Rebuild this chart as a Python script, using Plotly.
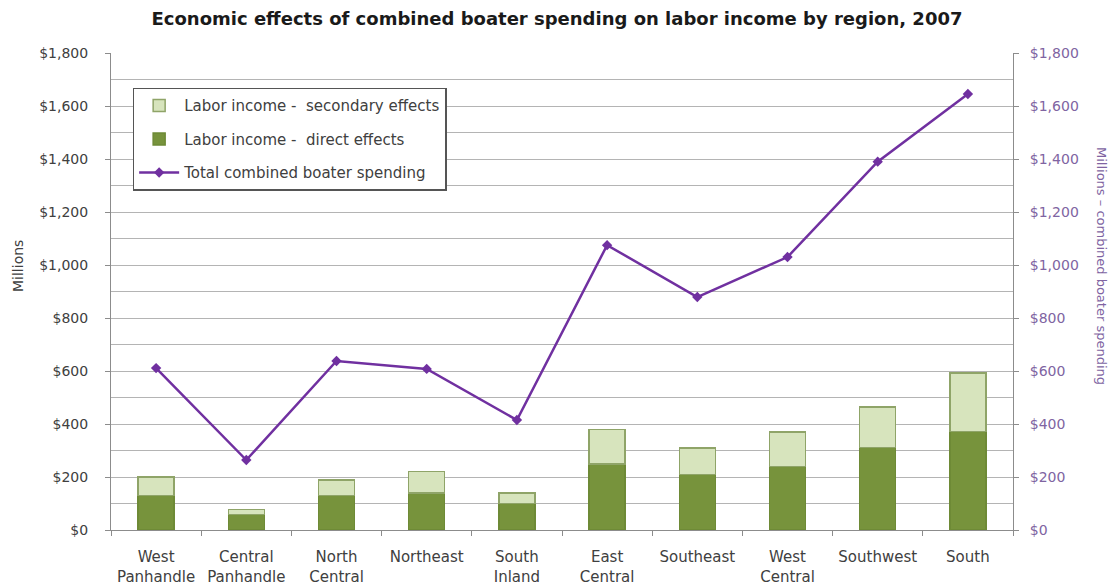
import plotly.graph_objects as go

# Regions (two-line tick labels) and values in millions of dollars
regions = ["West<br>Panhandle", "Central<br>Panhandle", "North<br>Central", "Northeast",
           "South<br>Inland", "East<br>Central", "Southeast", "West<br>Central",
           "Southwest", "South"]
direct_effects = [130, 58, 130, 140, 100, 250, 210, 240, 312, 372]
secondary_effects = [70, 20, 58, 80, 40, 130, 100, 130, 152, 220]
total_spending = [611, 264, 638, 608, 415, 1075, 879, 1030, 1390, 1645]

tick_vals = [0, 200, 400, 600, 800, 1000, 1200, 1400, 1600, 1800]
tick_text = ["$0", "$200", "$400", "$600", "$800", "$1,000", "$1,200", "$1,400", "$1,600", "$1,800"]

FONT = "DejaVu Sans"
GRID = "#B4B4B4"
AXIS = "#8C8C8C"
PURPLE_LINE = "#7030A0"
PURPLE_TEXT = "#8064A2"

fig = go.Figure()

fig.add_trace(go.Bar(
    x=regions, y=direct_effects, name="Labor income -  direct effects",
    marker=dict(color="#77933C", line=dict(color="#6E8A36", width=1.5)),
    legendrank=2, legendgroup="b",
))
fig.add_trace(go.Bar(
    x=regions, y=secondary_effects, name="Labor income -  secondary effects",
    marker=dict(color="#D7E4BD", line=dict(color="#8FA468", width=1.5)),
    legendrank=1, legendgroup="a",
))
fig.add_trace(go.Scatter(
    x=regions, y=total_spending, name="Total combined boater spending",
    mode="lines+markers", yaxis="y2",
    line=dict(color=PURPLE_LINE, width=2.5),
    marker=dict(symbol="diamond", size=8, color=PURPLE_LINE),
    legendrank=3, legendgroup="c",
))

fig.update_layout(
    width=1114, height=588,
    margin=dict(l=111, r=101, t=53, b=58),
    paper_bgcolor="white", plot_bgcolor="white",
    barmode="stack", bargap=0.6,
    font=dict(family=FONT, size=14, color="#404040"),
    title=dict(
        text="<b>Economic effects of combined boater spending on labor income by region, 2007</b>",
        x=0.5, xanchor="center", y=1 - 19 / 588, yanchor="middle", yref="container",
        font=dict(family=FONT, size=18, color="#1A1A1A"),
    ),
    xaxis=dict(
        range=[-0.5, 9.5], showline=True, linecolor=AXIS, linewidth=1,
        ticks="outside", tickson="boundaries", ticklen=5, tickcolor=AXIS,
        ticklabelstandoff=13, automargin=False,
        tickfont=dict(family=FONT, size=15, color="#404040"),
        showgrid=False, fixedrange=True,
    ),
    yaxis=dict(
        range=[0, 1800], tickvals=tick_vals, ticktext=tick_text,
        showline=True, linecolor=AXIS, linewidth=1, automargin=False,
        ticks="outside", ticklen=5, tickcolor=AXIS, ticklabelstandoff=14,
        showgrid=True, gridcolor=GRID, gridwidth=1,
        minor=dict(dtick=100, showgrid=True, gridcolor=GRID, gridwidth=1),
        tickfont=dict(family=FONT, size=14, color="#404040"),
        zeroline=False,
    ),
    yaxis2=dict(
        range=[0, 1800], tickvals=tick_vals, ticktext=tick_text,
        overlaying="y", side="right", showgrid=False, zeroline=False,
        showline=True, linecolor=AXIS, linewidth=1, automargin=False,
        ticks="outside", ticklen=5, tickcolor=AXIS, ticklabelstandoff=8,
        tickfont=dict(family=FONT, size=14, color=PURPLE_TEXT),
    ),
    legend=dict(
        x=0.024, y=0.927, xanchor="left", yanchor="top",
        bgcolor="white", bordercolor="#555555", borderwidth=1.5,
        font=dict(family=FONT, size=15, color="#404040"),
        tracegroupgap=11, itemwidth=40,
    ),
    annotations=[
        dict(text="Millions", textangle=-90, xref="paper", yref="paper",
             x=-93 / 902, y=(530 - 266) / 477, xanchor="center", yanchor="middle",
             showarrow=False, font=dict(family=FONT, size=14, color="#404040")),
        dict(text="Millions – combined boater spending", textangle=90, xref="paper", yref="paper",
             x=1 + 89 / 902, y=(530 - 266) / 477, xanchor="center", yanchor="middle",
             showarrow=False, font=dict(family=FONT, size=13, color=PURPLE_TEXT)),
    ],
)

fig.write_html("out.html")
